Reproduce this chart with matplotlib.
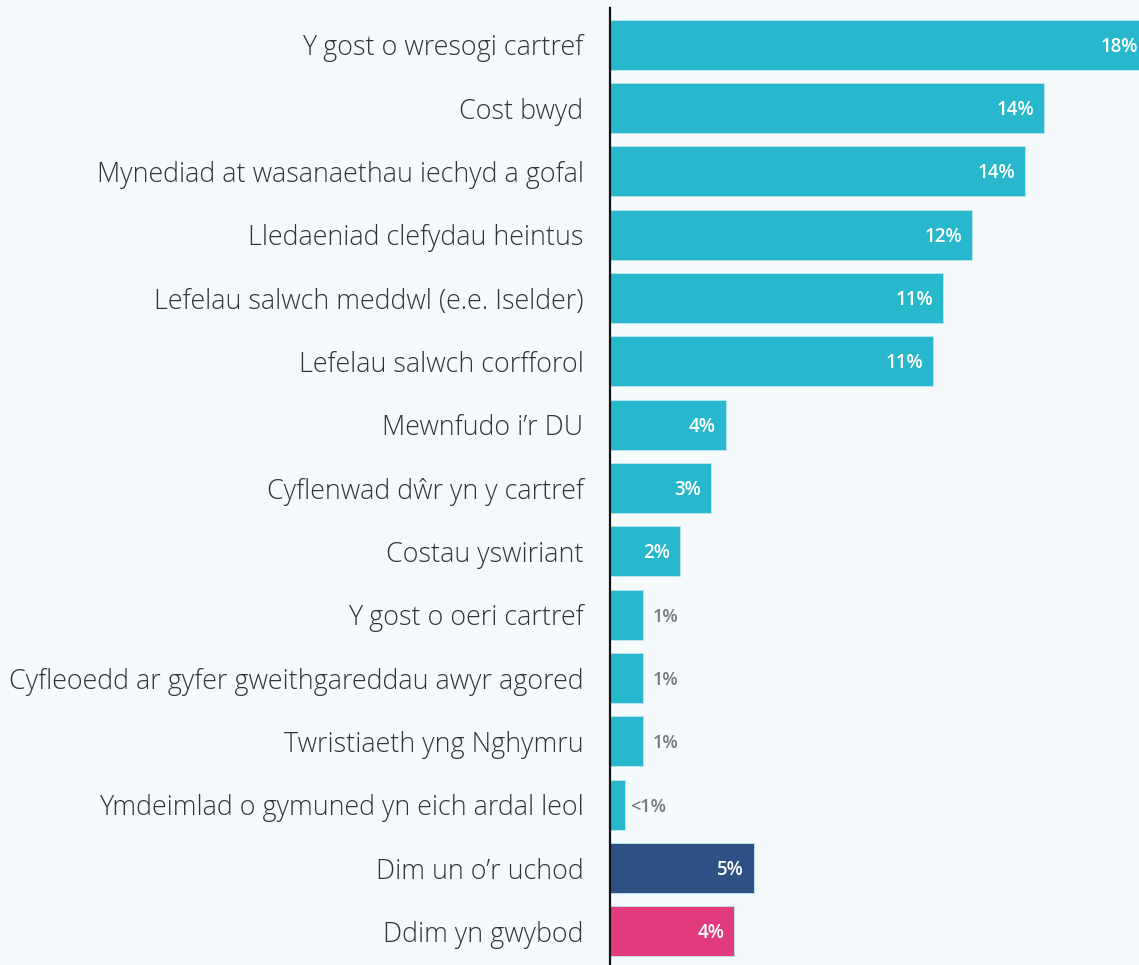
import matplotlib
matplotlib.use("Agg")
import matplotlib.pyplot as plt
from matplotlib import font_manager

categories = [
    "Y gost o wresogi cartref",
    "Cost bwyd",
    "Mynediad at wasanaethau iechyd a gofal",
    "Lledaeniad clefydau heintus",
    "Lefelau salwch meddwl (e.e. Iselder)",
    "Lefelau salwch corfforol",
    "Mewnfudo i\u2019r DU",
    "Cyflenwad d\u0175r yn y cartref",
    "Costau yswiriant",
    "Y gost o oeri cartref",
    "Cyfleoedd ar gyfer gweithgareddau awyr agored",
    "Twristiaeth yng Nghymru",
    "Ymdeimlad o gymuned yn eich ardal leol",
    "Dim un o\u2019r uchod",
    "Ddim yn gwybod",
]
values = [17.8, 14.37, 13.74, 11.99, 11.03, 10.70, 3.84, 3.34, 2.32,
          1.09, 1.09, 1.09, 0.50, 4.77, 4.11]
labels = ["18%", "14%", "14%", "12%", "11%", "11%", "4%", "3%", "2%",
          "1%", "1%", "1%", "<1%", "5%", "4%"]
teal, navy, pink = "#28B8CD", "#2E5082", "#E13A7F"
colors = [teal] * 13 + [navy, pink]

bg = "#F4F9FC"
avail = {f.name for f in font_manager.fontManager.ttflist}
fam = "Open Sans" if "Open Sans" in avail else "DejaVu Sans"

fig = plt.figure(figsize=(11.39, 9.65), dpi=100, facecolor=bg)
ax = fig.add_axes([610 / 1139, 0, 529 / 1139, 957 / 965], facecolor=bg)

y = list(range(len(categories)))
ax.barh(y, values, height=0.79, color=colors, edgecolor="#BFE6EE",
        linewidth=0.6)
ax.set_ylim(14.53, -0.58)
ax.set_xlim(0, 529 / 30.2)

for i, (v, lab) in enumerate(zip(values, labels)):
    if v < 2:
        off = 5 if lab.startswith("<") else 10
        ax.annotate(lab, (v, i), xytext=(off * 0.72, -2 * 0.72), textcoords="offset points",
                    ha="left", va="center", color="#7A7A7A", fontsize=13,
                    fontweight="semibold", family=fam)
    else:
        ax.annotate(lab, (v, i), xytext=(-10 * 0.72, -2 * 0.72), textcoords="offset points",
                    ha="right", va="center", color="white", fontsize=13.5,
                    fontweight="semibold", family=fam, annotation_clip=False)

ax.set_yticks(y)
ax.set_yticklabels(categories, family=fam, fontweight="light", fontsize=19.4,
                   color="#333333")
ax.tick_params(axis="y", length=0, pad=19)
ax.set_xticks([])
for s in ["top", "right", "bottom"]:
    ax.spines[s].set_visible(False)
ax.spines["left"].set_linewidth(1.6)
ax.spines["left"].set_color("#111111")

fig.savefig("out.png", dpi=100, facecolor=bg)
